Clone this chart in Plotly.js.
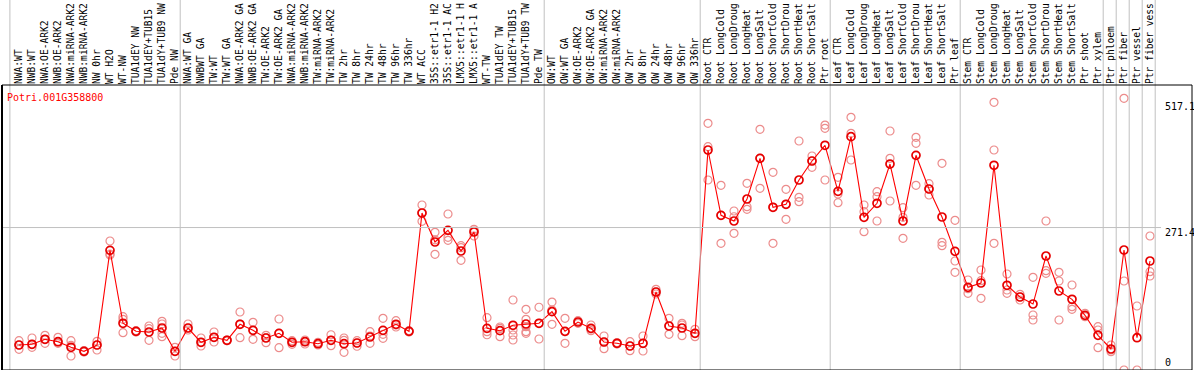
<!DOCTYPE html>
<html>
<head>
<meta charset="utf-8">
<script src="https://cdn.plot.ly/plotly-3.0.1.min.js"></script>
<style>
  html, body { margin: 0; padding: 0; background: #ffffff; }
  #chart { width: 1194px; height: 370px; }
</style>
</head>
<body>
<div id="chart"></div>
<script>
const geneId = 'Potri.001G358800';

// sample labels as shown on the chart (the source truncates them to 14 characters)
const categories = [
  'NWA:WT', 'NWB:WT', 'NWA:OE-ARK2', 'NWB:OE-ARK2', 'NWA:miRNA-ARK2', 'NWB:miRNA-ARK2',
  'NW 0hr', 'WT H2O', 'WT-NW', 'TUA1dEY NW', 'TUA1dEY+TUB15', 'TUA1dY+TUB9 NW', 'Pde NW',
  'NWA:WT GA', 'NWBWT GA', 'TW:WT', 'TW:WT GA', 'NWA:OE-ARK2 GA', 'NWB:OE-ARK2 GA',
  'TW:OE-ARK2', 'TW:OE-ARK2 GA', 'NWA:miRNA-ARK2', 'NWB:miRNA-ARK2', 'TW:miRNA-ARK2',
  'TW:miRNA-ARK2', 'TW 2hr', 'TW 8hr', 'TW 24hr', 'TW 48hr', 'TW 96hr', 'TW 336hr',
  'WT ACC', '35S::etr1-1 H2', '35S::etr1-1 AC', 'LMX5::etr1-1 H', 'LMX5::etr1-1 A',
  'WT-TW', 'TUA1dEY TW', 'TUA1dEY+TUB15', 'TUA1dY+TUB9 TW', 'Pde TW',
  'OW:WT', 'OW:WT GA', 'OW:OE-ARK2', 'OW:OE-ARK2 GA', 'OW:miRNA-ARK2', 'OW:miRNA-ARK2',
  'OW 2hr', 'OW 8hr', 'OW 24hr', 'OW 48hr', 'OW 96hr', 'OW 336hr',
  'Root CTR', 'Root LongCold', 'Root LongDroug', 'Root LongHeat', 'Root LongSalt',
  'Root ShortCold', 'Root ShortDrou', 'Root ShortHeat', 'Root ShortSalt', 'Ptr root',
  'Leaf CTR', 'Leaf LongCold', 'Leaf LongDroug', 'Leaf LongHeat', 'Leaf LongSalt',
  'Leaf ShortCold', 'Leaf ShortDrou', 'Leaf ShortHeat', 'Leaf ShortSalt', 'Ptr leaf',
  'Stem CTR', 'Stem LongCold', 'Stem LongDroug', 'Stem LongHeat', 'Stem LongSalt',
  'Stem ShortCold', 'Stem ShortDrou', 'Stem ShortHeat', 'Stem ShortSalt', 'Ptr shoot',
  'Ptr xylem', 'Ptr phloem', 'Ptr fiber', 'Ptr vessel', 'Ptr fiber vess'
];

const means = [
  47.6, 49.0, 58.5, 53.9, 43.2, 35.6, 47.6, 228.0, 89.0, 73.7, 72.4, 80.0, 35.6,
  80.0, 52.8, 62.3, 56.6, 87.1, 75.6, 61.0, 69.9, 52.8, 53.9, 50.1, 56.6, 50.1, 51.4,
  62.9, 75.6, 87.1, 73.7, 299.1, 243.9, 266.1, 226.7, 262.9, 79.4, 74.9, 85.2, 87.6, 89.0,
  111.1, 73.7, 91.4, 79.4, 53.3, 50.9, 45.7, 50.9, 148.6, 83.8, 80.0, 69.9,
  419.1, 294.7, 283.9, 325.8, 403.3, 310.0, 315.7, 362.0, 398.2, 428.1,
  340.4, 444.5, 290.9, 317.6, 392.4, 283.9, 409.0, 344.8, 291.5, 226.1,
  157.5, 165.7, 390.0, 161.4, 139.1, 125.7, 217.2, 150.5, 134.7, 104.2, 66.1,
  40.0, 228.6, 61.5, 207.7
];

const replicates = [
  [55.8, 39.4, 47.6], [61.0, 43.2, 49.0], [66.1, 50.9, 58.5], [62.3, 50.9, 53.3],
  [55.8, 26.7, 47.1], [37.1, 35.6, 34.3], [54.7, 38.1, 47.6], [245.8, 219.1, 221.0],
  [101.5, 71.1, 96.6], [74.9, 72.4, 73.7], [83.8, 56.6, 78.7], [92.8, 87.6, 63.4, 69.9],
  [43.2, 26.7, 35.6],
  [87.6, 76.2, 80.0], [61.0, 45.7, 52.8], [72.4, 53.3, 62.3], [57.2, 55.8, 56.6],
  [110.5, 61.5, 87.6], [90.9, 58.5, 75.6], [66.1, 52.0, 61.5], [97.2, 42.5, 69.9],
  [52.8, 49.0, 55.8], [53.9, 57.2, 49.5], [52.8, 47.6, 50.1], [67.2, 46.3, 56.6],
  [61.0, 33.7, 56.6], [55.8, 45.2, 51.4], [73.0, 50.9, 64.8], [98.5, 60.4, 68.0],
  [93.9, 81.9, 85.7], [74.9, 72.4, 73.7], [314.3, 283.3, 299.1], [262.3, 220.4, 248.0],
  [297.2, 247.1, 252.8], [236.8, 209.0, 233.0], [268.0, 255.3, 264.8], [99.6, 67.2, 73.0],
  [81.9, 63.4, 79.4], [133.4, 66.7, 57.2, 76.2], [115.6, 96.6, 82.5, 73.0, 69.9],
  [119.5, 59.1, 89.0],
  [129.5, 87.1, 114.3], [98.5, 50.9, 73.0], [93.9, 89.0, 91.4], [85.7, 74.9, 78.1],
  [64.8, 40.6, 53.3], [52.0, 49.5, 50.9], [53.9, 36.8, 45.7], [64.8, 36.2, 50.9],
  [153.7, 144.8, 148.6], [98.5, 68.0, 83.8], [89.0, 65.3, 85.7], [77.5, 63.4, 69.9],
  [470.0, 425.4, 362.0], [351.9, 241.4, 294.7], [302.9, 260.4, 292.0], [355.7, 311.1, 306.1],
  [458.6, 346.2, 403.3], [376.6, 241.4, 310.0], [344.3, 287.1, 315.7], [436.3, 329.0, 320.6],
  [407.7, 386.2, 398.2], [466.7, 460.5, 362.0],
  [367.1, 318.7, 335.3], [481.4, 400.1, 450.9], [314.3, 263.5, 301.6], [339.7, 283.9, 330.2],
  [455.3, 322.0, 403.3], [309.2, 250.9, 290.9], [443.3, 431.9, 351.9], [354.9, 333.4, 344.8],
  [393.8, 243.3, 236.8], [285.2, 207.7, 186.1],
  [171.5, 146.1, 154.9], [190.5, 136.6, 170.1], [510.0, 419.1, 241.4], [182.9, 146.1, 152.4],
  [144.2, 133.4, 139.1], [176.6, 104.8, 95.3], [283.9, 189.2, 184.2], [186.1, 169.6, 95.3],
  [161.9, 120.6, 115.6], [108.0, 101.5, 104.2], [82.5, 76.2, 42.5],
  [47.6, 34.9, 38.1], [517.6, 169.6, 0], [121.9, 0], [255.3, 187.3, 179.1]
];

// last category index of each tissue group (group separators drawn after them)
const groupEnds = [12, 40, 52, 62, 72, 83, 84, 85, 86, 87];
const yTickValues = [0, 271.4, 517.1];
const yTickLabels = ['0', '271.4', '517.1'];

const idx = categories.map((_, i) => i);
const repX = [], repY = [];
replicates.forEach((arr, i) => arr.forEach(v => { repX.push(i); repY.push(v); }));

const X_MIN = -1.3077, X_MAX = 90.2308;
const toPaper = v => (v - X_MIN) / (X_MAX - X_MIN);

const mono = 'DejaVu Sans Mono, monospace';

const traces = [
  {
    x: repX, y: repY, type: 'scatter', mode: 'markers', hoverinfo: 'skip',
    marker: { symbol: 'circle-open', size: 8, color: 'rgb(236,140,140)', line: { width: 1.2, color: 'rgb(236,140,140)' } }
  },
  {
    x: idx, y: means, type: 'scatter', mode: 'lines+markers',
    line: { color: '#ff0000', width: 1.1 },
    marker: { symbol: 'circle-open', size: 8, color: '#e60000', line: { width: 1.7, color: '#e60000' } }
  }
];

const shapes = [];
const seps = [-0.7].concat(groupEnds.map(g => g + 0.4));
seps.forEach(s => shapes.push({
  type: 'line', xref: 'paper', yref: 'paper', x0: toPaper(s), x1: toPaper(s), y0: 0, y1: 1.3,
  line: { color: '#c0c0c0', width: 1 }
}));
shapes.push({
  type: 'line', xref: 'paper', yref: 'y', x0: 0, x1: 0.974, y0: yTickValues[1], y1: yTickValues[1],
  line: { color: '#c0c0c0', width: 1 }
});
shapes.push({ type: 'rect', xref: 'paper', yref: 'paper', x0: 0, x1: 1, y0: 0, y1: 1, line: { color: '#000', width: 1 } });
shapes.push({ type: 'line', xref: 'paper', yref: 'paper', x0: 0, x1: 0, y0: 0, y1: 1, line: { color: '#000', width: 2 } });

const shifts = [8, -4.5, -8];
const annotations = yTickValues.map((v, i) => ({
  xref: 'x', yref: 'y', x: 88.0, y: v, xanchor: 'left', yanchor: 'middle', yshift: shifts[i],
  text: yTickLabels[i], showarrow: false, font: { family: mono, size: 10, color: '#000' }
}));
annotations.push({
  xref: 'paper', yref: 'paper', x: 0, y: 1, xanchor: 'left', yanchor: 'top', xshift: 3, yshift: -5,
  text: geneId, showarrow: false, font: { family: mono, size: 10, color: '#ff0000' }
});

const layout = {
  width: 1194, height: 370,
  margin: { l: 2, r: 2, t: 85, b: 0, pad: 0 },
  paper_bgcolor: '#ffffff', plot_bgcolor: '#ffffff',
  showlegend: false,
  xaxis: {
    range: [X_MIN, X_MAX], side: 'top', tickmode: 'array', tickvals: idx, ticktext: categories,
    tickangle: -90, tickfont: { family: mono, size: 9.6, color: '#000' }, ticks: '',
    showgrid: false, zeroline: false, showline: false, automargin: false, fixedrange: true
  },
  yaxis: {
    range: [0, 542.96], showgrid: false, zeroline: false, showticklabels: false,
    showline: false, automargin: false, fixedrange: true
  },
  shapes: shapes,
  annotations: annotations
};

Plotly.newPlot('chart', traces, layout, { displayModeBar: false, staticPlot: true });
</script>
</body>
</html>
